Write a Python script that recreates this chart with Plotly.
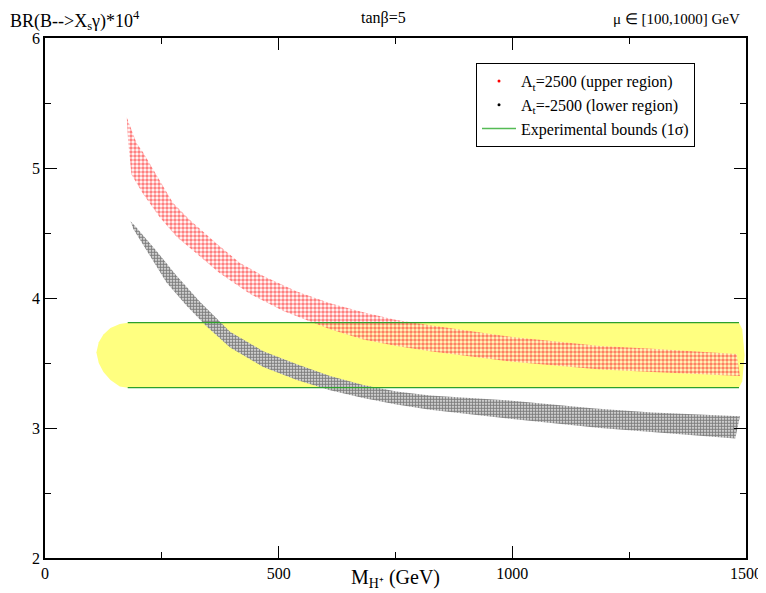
import plotly.graph_objects as go

# ---------------- data ----------------
# upper region (A_t = 2500): envelope of the scan points
red_top_M  = [175, 182, 196, 210, 239, 274, 310, 367, 417, 467, 539, 610, 681, 752, 824, 1000, 1188, 1300, 1480]
red_top_BR = [5.39, 5.32, 5.19, 5.12, 4.94, 4.73, 4.60, 4.42, 4.27, 4.17, 4.05, 3.96, 3.89, 3.83, 3.79, 3.70, 3.63, 3.61, 3.57]
red_bot_M  = [175, 178, 185, 210, 246, 282, 325, 374, 439, 510, 610, 681, 752, 824, 1000, 1188, 1300, 1487]
red_bot_BR = [5.39, 5.20, 4.95, 4.80, 4.62, 4.47, 4.34, 4.19, 4.03, 3.90, 3.76, 3.68, 3.63, 3.59, 3.51, 3.45, 3.43, 3.40]

# lower region (A_t = -2500)
blk_top_M  = [183, 196, 239, 282, 332, 367, 396, 467, 539, 610, 681, 752, 824, 1000, 1177, 1300, 1487]
blk_top_BR = [4.59, 4.54, 4.36, 4.17, 3.97, 3.84, 3.74, 3.59, 3.49, 3.40, 3.33, 3.28, 3.25, 3.21, 3.15, 3.12, 3.09]
blk_bot_M  = [183, 189, 225, 260, 303, 346, 396, 467, 539, 610, 681, 752, 824, 1000, 1188, 1300, 1477]
blk_bot_BR = [4.59, 4.53, 4.32, 4.12, 3.94, 3.78, 3.62, 3.47, 3.37, 3.29, 3.23, 3.18, 3.14, 3.07, 3.00, 2.97, 2.92]

# experimental 1 sigma band
exp_lo, exp_hi = 3.31, 3.81
exp_M = [177, 1485]
# outline of the yellow point cloud
yel_M  = [177, 160, 140, 125, 115, 110, 115, 125, 140, 160, 177, 1485, 1492, 1497, 1492, 1485]
yel_BR = [3.81, 3.80, 3.77, 3.72, 3.66, 3.58, 3.50, 3.43, 3.37, 3.32, 3.31, 3.31, 3.36, 3.56, 3.76, 3.81]

x_ticks = [0, 500, 1000, 1500]
y_ticks = [2, 3, 4, 5, 6]

# ---------------- figure ----------------
# the page body has an 8px margin; all positions below are in window pixels
OFF = 8
PL, PT, PW, PH = 45, 38, 701, 520          # plot area in window pixels
W, H = 758, 585
L, T = PL - OFF, PT - OFF
R, B = W - L - PW, H - T - PH
def px(x): return (x - PL) / PW
def py(y): return (PT + PH - y) / PH

SERIF = "Liberation Serif, Times New Roman, Times, serif"
fig = go.Figure()

fig.add_trace(go.Scatter(x=yel_M, y=yel_BR, fill="toself", mode="lines",
                         line=dict(width=0, color="#ffff80"), fillcolor="#ffff80",
                         showlegend=False, hoverinfo="skip"))

fig.add_trace(go.Scatter(x=blk_top_M + blk_bot_M[::-1], y=blk_top_BR + blk_bot_BR[::-1],
                         fill="toself", mode="lines", line=dict(width=0, color="black"),
                         fillpattern=dict(shape=".", fgcolor="black", bgcolor="white",
                                          size=3, solidity=0.7),
                         showlegend=False, hoverinfo="skip"))

fig.add_trace(go.Scatter(x=red_top_M + red_bot_M[::-1], y=red_top_BR + red_bot_BR[::-1],
                         fill="toself", mode="lines", line=dict(width=0, color="red"),
                         fillpattern=dict(shape=".", fgcolor="red", bgcolor="rgba(255,255,255,0.5)",
                                          size=4, solidity=0.6),
                         showlegend=False, hoverinfo="skip"))

green = "#2ca02c"
for yv in (exp_hi, exp_lo):
    fig.add_trace(go.Scatter(x=exp_M, y=[yv, yv], mode="lines",
                             line=dict(color=green, width=1.3), showlegend=False, hoverinfo="skip"))

# legend entries
fig.add_trace(go.Scatter(x=[None], y=[None], mode="markers", marker=dict(color="red", size=3),
                         name="A<sub>t</sub>=2500 (upper region)"))
fig.add_trace(go.Scatter(x=[None], y=[None], mode="markers", marker=dict(color="black", size=3),
                         name="A<sub>t</sub>=-2500 (lower region)"))
fig.add_trace(go.Scatter(x=[None], y=[None], mode="lines", line=dict(color="#55bb55", width=1.3),
                         name="Experimental bounds (1σ)"))

axis_common = dict(showline=True, linecolor="black", linewidth=1.5, mirror="ticks",
                   ticks="inside", ticklen=12, tickwidth=1, tickcolor="black",
                   showgrid=False, zeroline=False, automargin=False,
                   tickfont=dict(family=SERIF, size=16, color="black"))
fig.update_xaxes(range=[0, 1500], tickvals=x_ticks,
                 minor=dict(dtick=250, ticks="inside", ticklen=6, tickcolor="black"),
                 **axis_common)
fig.update_yaxes(range=[2, 6], tickvals=y_ticks,
                 minor=dict(dtick=0.5, ticks="inside", ticklen=6, tickcolor="black"),
                 **axis_common)

ann = [
    dict(text="BR(B-->X<sub>s</sub>γ)*10<sup>4</sup>", x=px(OFF + 0), y=py(21), xanchor="left",
         yanchor="middle", font=dict(size=18)),
    dict(text="tanβ=5", x=px(383), y=py(18), xanchor="center", yanchor="middle", font=dict(size=16)),
    dict(text="μ ∈ [100,1000] GeV", x=px(611), y=py(19), xanchor="left", yanchor="middle",
         font=dict(size=15)),
    dict(text="M<sub>H⁺</sub> (GeV)", x=px(396), y=py(578), xanchor="center", yanchor="middle",
         font=dict(size=20)),
]
for a in ann:
    a.update(xref="paper", yref="paper", showarrow=False)
    a["font"].update(family=SERIF, color="black")

fig.update_layout(
    width=W, height=H, margin=dict(l=L, r=R, t=T, b=B, pad=0, autoexpand=False),
    paper_bgcolor="white", plot_bgcolor="white",
    annotations=ann,
    legend=dict(x=px(476), y=py(63), xanchor="left", yanchor="top",
                bgcolor="white", bordercolor="black", borderwidth=1,
                font=dict(family=SERIF, size=16, color="black"),
                tracegroupgap=0, itemwidth=34),
)

fig.write_html("out.html")
